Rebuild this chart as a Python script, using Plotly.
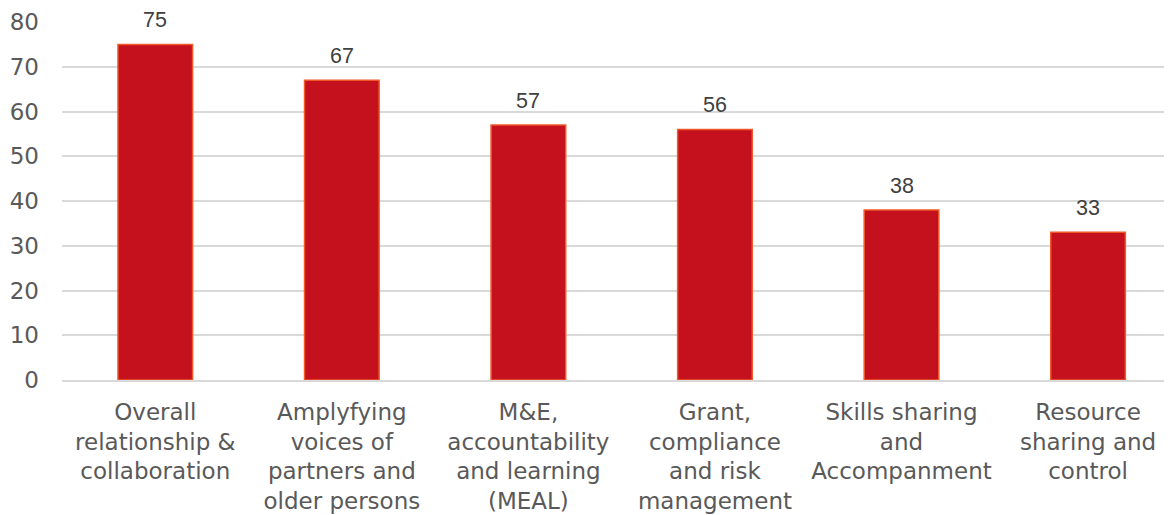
import plotly.graph_objects as go

categories = [
    "Overall<br>relationship &<br>collaboration",
    "Amplyfying<br>voices of<br>partners and<br>older persons",
    "M&E,<br>accountability<br>and learning<br>(MEAL)",
    "Grant,<br>compliance<br>and risk<br>management",
    "Skills sharing<br>and<br>Accompanment",
    "Resource<br>sharing and<br>control",
]
values = [75, 67, 57, 56, 38, 33]
y_ticks = [0, 10, 20, 30, 40, 50, 60, 70, 80]

fig = go.Figure()
fig.add_trace(go.Bar(
    x=categories, y=values, width=0.4,
    marker=dict(color="#C5101D", line=dict(color="#F0582A", width=1.5)),
    hoverinfo="skip",
))
for c, v in zip(categories, values):
    fig.add_annotation(x=c, y=v, text=str(v), showarrow=False, yanchor="bottom",
                       yshift=10, font=dict(family="Liberation Sans, Arial", size=21.5, color="#404040"))

fig.update_layout(
    width=1164, height=507,
    margin=dict(l=54, r=0, t=14, b=135),
    plot_bgcolor="white", paper_bgcolor="white",
    showlegend=False,
    font=dict(family="DejaVu Sans, Verdana", size=23, color="#595959"),
    xaxis=dict(range=[-0.5, 5.45], showgrid=False, showline=True, linecolor="#D9D9D9",
               linewidth=2, tickfont=dict(size=23, color="#595959"), ticks="",
               ticklabelstandoff=10, automargin=False),
    yaxis=dict(range=[0, 80], tickvals=y_ticks, showgrid=True, gridcolor="#D9D9D9",
               gridwidth=2, zeroline=False, showline=False, ticks="",
               tickfont=dict(size=23, color="#595959"), ticklabelstandoff=22,
               automargin=False),
)
fig.write_html("out.html")
